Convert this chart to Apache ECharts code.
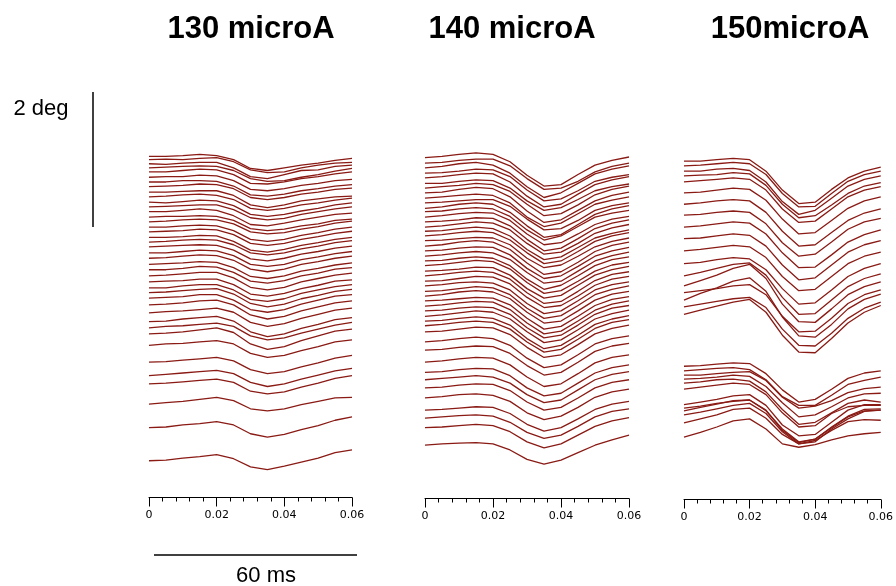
<!DOCTYPE html>
<html>
<head>
<meta charset="utf-8">
<script src="https://cdn.jsdelivr.net/npm/echarts@6/dist/echarts.min.js"></script>
<style>html,body{margin:0;padding:0;background:#fff;}#c{width:896px;height:586px;}</style>
</head>
<body>
<div id="c"></div>
<script>
// time samples (s)
const times = [0, 0.005, 0.01, 0.015, 0.02, 0.025, 0.03, 0.035, 0.04, 0.045, 0.05, 0.055, 0.06];
const panelTitles = ['130 microA', '140 microA', '150microA'];
const tickValues = [0, 0.02, 0.04, 0.06];
const scaleBarMs = 60;
const scaleBarDeg = 2;

// Panel 1 (130 microA): trace baselines (deg) and deviations (deg) at each time
const p1Offsets = [4.61, 4.56, 4.50, 4.44, 4.38, 4.30, 4.23, 4.16, 4.08, 4.01, 3.93, 3.86, 3.79, 3.71, 3.64, 3.56, 3.49, 3.41, 3.34, 3.27, 3.18, 3.10, 3.01, 2.93, 2.84, 2.75, 2.66, 2.59, 2.51, 2.41, 2.29, 2.16, 2.07, 1.98, 1.81, 1.56, 1.36, 1.24, 0.94, 0.59, 0.10];
const p1Dev = [
[0, 0.00, 0.01, 0.03, 0.01, -0.05, -0.18, -0.21, -0.17, -0.13, -0.10, -0.06, -0.03],
[0, 0.01, 0.00, 0.02, 0.03, -0.03, -0.15, -0.19, -0.18, -0.12, -0.08, -0.05, -0.04],
[0, -0.01, 0.01, 0.02, 0.02, -0.06, -0.19, -0.22, -0.16, -0.10, -0.09, -0.04, -0.02],
[0, 0.01, 0.02, 0.03, 0.02, -0.04, -0.16, -0.20, -0.19, -0.14, -0.10, -0.05, -0.01],
[0, 0.00, 0.02, 0.04, 0.03, -0.04, -0.17, -0.18, -0.15, -0.10, -0.07, -0.03, 0.00],
[0, 0.01, 0.01, 0.03, 0.02, -0.05, -0.18, -0.20, -0.17, -0.12, -0.09, -0.05, -0.03],
[0, 0.00, 0.02, 0.02, 0.01, -0.06, -0.19, -0.21, -0.18, -0.13, -0.10, -0.06, -0.04],
[0, 0.01, 0.02, 0.04, 0.03, -0.03, -0.16, -0.19, -0.16, -0.11, -0.08, -0.04, -0.02],
[0, 0.00, 0.01, 0.02, 0.02, -0.05, -0.19, -0.23, -0.19, -0.13, -0.10, -0.07, -0.06],
[0, 0.01, 0.03, 0.04, 0.02, -0.04, -0.17, -0.20, -0.17, -0.12, -0.09, -0.05, -0.02],
[0, -0.01, 0.01, 0.03, 0.02, -0.05, -0.18, -0.21, -0.18, -0.13, -0.09, -0.04, -0.01],
[0, 0.01, 0.02, 0.03, 0.03, -0.04, -0.16, -0.19, -0.17, -0.11, -0.07, -0.03, 0.00],
[0, 0.00, 0.02, 0.04, 0.02, -0.06, -0.19, -0.21, -0.17, -0.12, -0.08, -0.04, -0.02],
[0, 0.01, 0.01, 0.02, 0.01, -0.05, -0.17, -0.20, -0.18, -0.13, -0.10, -0.05, -0.03],
[0, 0.01, 0.03, 0.04, 0.03, -0.03, -0.15, -0.18, -0.16, -0.11, -0.07, -0.02, 0.01],
[0, 0.00, 0.02, 0.03, 0.02, -0.05, -0.18, -0.21, -0.18, -0.12, -0.08, -0.03, 0.00],
[0, 0.01, 0.02, 0.04, 0.03, -0.04, -0.17, -0.20, -0.17, -0.11, -0.07, -0.02, 0.01],
[0, 0.00, 0.01, 0.03, 0.02, -0.06, -0.19, -0.22, -0.18, -0.12, -0.08, -0.03, 0.00],
[0, 0.01, 0.03, 0.04, 0.03, -0.04, -0.16, -0.19, -0.16, -0.10, -0.06, -0.01, 0.02],
[0, 0.01, 0.02, 0.03, 0.02, -0.05, -0.18, -0.21, -0.17, -0.11, -0.07, -0.02, 0.01],
[0, 0.00, 0.02, 0.04, 0.03, -0.04, -0.17, -0.20, -0.17, -0.10, -0.06, -0.01, 0.02],
[0, 0.01, 0.03, 0.05, 0.04, -0.03, -0.16, -0.20, -0.16, -0.09, -0.05, 0.00, 0.03],
[0, 0.01, 0.02, 0.04, 0.03, -0.05, -0.18, -0.21, -0.17, -0.10, -0.06, -0.01, 0.02],
[0, 0.00, 0.02, 0.05, 0.04, -0.04, -0.17, -0.20, -0.16, -0.09, -0.05, 0.01, 0.03],
[0, 0.01, 0.03, 0.05, 0.05, -0.03, -0.17, -0.21, -0.17, -0.09, -0.04, 0.01, 0.04],
[0, 0.01, 0.02, 0.04, 0.04, -0.04, -0.18, -0.21, -0.17, -0.10, -0.05, 0.01, 0.03],
[0, 0.00, 0.03, 0.05, 0.05, -0.03, -0.17, -0.20, -0.16, -0.08, -0.03, 0.02, 0.05],
[0, 0.01, 0.03, 0.05, 0.06, -0.02, -0.16, -0.21, -0.17, -0.09, -0.04, 0.02, 0.05],
[0, 0.01, 0.02, 0.05, 0.05, -0.03, -0.17, -0.21, -0.17, -0.09, -0.03, 0.03, 0.05],
[0, 0.01, 0.03, 0.06, 0.07, 0.00, -0.15, -0.21, -0.17, -0.09, -0.03, 0.03, 0.06],
[0, 0.02, 0.03, 0.05, 0.07, 0.01, -0.14, -0.20, -0.16, -0.08, -0.02, 0.04, 0.07],
[0, 0.01, 0.04, 0.06, 0.08, 0.01, -0.15, -0.22, -0.18, -0.10, -0.04, 0.03, 0.06],
[0, 0.02, 0.03, 0.05, 0.07, 0.02, -0.12, -0.18, -0.15, -0.08, -0.02, 0.04, 0.08],
[0, 0.01, 0.03, 0.06, 0.09, 0.02, -0.15, -0.23, -0.19, -0.10, -0.03, 0.04, 0.07],
[0, 0.02, 0.03, 0.05, 0.07, 0.02, -0.12, -0.18, -0.15, -0.08, -0.02, 0.05, 0.08],
[0, 0.01, 0.03, 0.05, 0.07, 0.02, -0.11, -0.17, -0.14, -0.07, -0.01, 0.06, 0.10],
[0, 0.02, 0.04, 0.06, 0.08, 0.03, -0.10, -0.16, -0.12, -0.05, 0.01, 0.07, 0.11],
[0, 0.01, 0.03, 0.05, 0.07, 0.02, -0.11, -0.15, -0.12, -0.05, 0.01, 0.08, 0.12],
[0, 0.02, 0.04, 0.07, 0.10, 0.05, -0.07, -0.10, -0.07, -0.01, 0.04, 0.09, 0.10],
[0, 0.01, 0.04, 0.06, 0.09, 0.04, -0.09, -0.14, -0.10, -0.03, 0.03, 0.11, 0.16],
[0, 0.01, 0.04, 0.06, 0.09, 0.03, -0.09, -0.13, -0.08, -0.02, 0.04, 0.12, 0.16]
];

// Panel 2 (140 microA)
const p2Offsets = [4.59, 4.51, 4.44, 4.36, 4.29, 4.21, 4.14, 4.07, 3.99, 3.92, 3.84, 3.79, 3.71, 3.64, 3.56, 3.50, 3.43, 3.36, 3.28, 3.21, 3.13, 3.06, 2.99, 2.91, 2.84, 2.76, 2.69, 2.61, 2.54, 2.47, 2.39, 2.32, 2.24, 2.17, 2.10, 2.01, 1.86, 1.74, 1.56, 1.41, 1.30, 1.18, 1.03, 0.85, 0.73, 0.59, 0.33];
const p2Dev = [
[0, 0.02, 0.05, 0.07, 0.05, -0.06, -0.26, -0.42, -0.40, -0.25, -0.11, -0.04, 0.01],
[0, 0.01, 0.04, 0.06, 0.06, -0.04, -0.23, -0.39, -0.37, -0.27, -0.13, -0.05, 0.00],
[0, 0.02, 0.06, 0.08, 0.04, -0.08, -0.28, -0.44, -0.37, -0.23, -0.09, -0.02, 0.03],
[0, 0.01, 0.03, 0.06, 0.05, -0.05, -0.25, -0.41, -0.38, -0.26, -0.12, -0.06, -0.02],
[0, 0.02, 0.05, 0.07, 0.06, -0.06, -0.27, -0.43, -0.39, -0.24, -0.10, -0.03, 0.02],
[0, 0.00, 0.03, 0.05, 0.04, -0.07, -0.26, -0.40, -0.36, -0.24, -0.11, -0.05, -0.01],
[0, 0.02, 0.04, 0.07, 0.05, -0.05, -0.24, -0.41, -0.38, -0.25, -0.10, -0.02, 0.03],
[0, 0.01, 0.05, 0.08, 0.06, -0.06, -0.27, -0.44, -0.40, -0.26, -0.12, -0.04, 0.01],
[0, 0.02, 0.04, 0.06, 0.04, -0.07, -0.28, -0.42, -0.37, -0.23, -0.09, -0.03, 0.02],
[0, 0.01, 0.03, 0.05, 0.05, -0.05, -0.24, -0.40, -0.38, -0.26, -0.11, -0.04, 0.00],
[0, 0.02, 0.06, 0.08, 0.06, -0.06, -0.26, -0.43, -0.39, -0.24, -0.09, -0.01, 0.04],
[0, 0.01, 0.04, 0.06, 0.04, -0.07, -0.27, -0.42, -0.36, -0.22, -0.08, -0.02, 0.02],
[0, 0.02, 0.05, 0.07, 0.06, -0.05, -0.25, -0.41, -0.38, -0.25, -0.11, -0.03, 0.01],
[0, 0.01, 0.03, 0.06, 0.05, -0.06, -0.26, -0.43, -0.39, -0.25, -0.10, -0.02, 0.03],
[0, 0.02, 0.05, 0.08, 0.06, -0.04, -0.24, -0.40, -0.37, -0.24, -0.09, -0.01, 0.04],
[0, 0.01, 0.04, 0.06, 0.04, -0.07, -0.27, -0.42, -0.38, -0.24, -0.10, -0.03, 0.02],
[0, 0.02, 0.05, 0.07, 0.05, -0.06, -0.25, -0.41, -0.37, -0.23, -0.08, 0.00, 0.05],
[0, 0.01, 0.03, 0.05, 0.04, -0.06, -0.26, -0.40, -0.36, -0.23, -0.09, -0.01, 0.04],
[0, 0.02, 0.06, 0.08, 0.06, -0.05, -0.25, -0.42, -0.38, -0.24, -0.08, 0.01, 0.06],
[0, 0.01, 0.04, 0.06, 0.05, -0.06, -0.26, -0.41, -0.37, -0.23, -0.08, 0.00, 0.05],
[0, 0.02, 0.05, 0.07, 0.05, -0.05, -0.24, -0.40, -0.37, -0.22, -0.07, 0.01, 0.06],
[0, 0.01, 0.04, 0.06, 0.04, -0.07, -0.27, -0.42, -0.36, -0.22, -0.07, 0.02, 0.06],
[0, 0.02, 0.05, 0.08, 0.06, -0.05, -0.25, -0.41, -0.37, -0.23, -0.08, 0.01, 0.05],
[0, 0.01, 0.03, 0.06, 0.05, -0.06, -0.26, -0.40, -0.36, -0.21, -0.06, 0.02, 0.07],
[0, 0.02, 0.05, 0.07, 0.05, -0.05, -0.25, -0.41, -0.38, -0.23, -0.07, 0.02, 0.06],
[0, 0.01, 0.04, 0.07, 0.06, -0.04, -0.24, -0.39, -0.36, -0.22, -0.06, 0.03, 0.07],
[0, 0.02, 0.05, 0.06, 0.04, -0.06, -0.26, -0.41, -0.37, -0.22, -0.06, 0.02, 0.06],
[0, 0.01, 0.04, 0.07, 0.05, -0.05, -0.25, -0.40, -0.36, -0.21, -0.05, 0.03, 0.08],
[0, 0.02, 0.06, 0.08, 0.06, -0.04, -0.24, -0.40, -0.37, -0.22, -0.06, 0.03, 0.07],
[0, 0.01, 0.03, 0.05, 0.04, -0.06, -0.26, -0.42, -0.38, -0.23, -0.07, 0.02, 0.06],
[0, 0.02, 0.05, 0.07, 0.06, -0.05, -0.25, -0.41, -0.37, -0.22, -0.06, 0.03, 0.08],
[0, 0.01, 0.04, 0.06, 0.05, -0.05, -0.25, -0.40, -0.36, -0.21, -0.05, 0.04, 0.08],
[0, 0.02, 0.05, 0.08, 0.06, -0.04, -0.23, -0.39, -0.35, -0.20, -0.04, 0.04, 0.09],
[0, 0.01, 0.04, 0.06, 0.04, -0.06, -0.26, -0.41, -0.36, -0.21, -0.05, 0.03, 0.08],
[0, 0.02, 0.05, 0.07, 0.05, -0.05, -0.24, -0.39, -0.35, -0.20, -0.04, 0.05, 0.09],
[0, 0.01, 0.04, 0.07, 0.06, -0.04, -0.23, -0.38, -0.34, -0.19, -0.03, 0.05, 0.10],
[0, 0.02, 0.05, 0.07, 0.05, -0.05, -0.24, -0.38, -0.34, -0.19, -0.03, 0.05, 0.09],
[0, 0.01, 0.04, 0.06, 0.05, -0.05, -0.23, -0.37, -0.33, -0.18, -0.02, 0.06, 0.10],
[0, 0.02, 0.05, 0.07, 0.06, -0.04, -0.22, -0.36, -0.32, -0.17, -0.01, 0.07, 0.11],
[0, 0.01, 0.04, 0.06, 0.05, -0.05, -0.23, -0.35, -0.31, -0.16, -0.01, 0.07, 0.11],
[0, 0.02, 0.04, 0.06, 0.04, -0.05, -0.22, -0.34, -0.30, -0.15, 0.00, 0.08, 0.12],
[0, 0.01, 0.04, 0.06, 0.05, -0.04, -0.21, -0.33, -0.29, -0.15, 0.00, 0.08, 0.12],
[0, 0.02, 0.05, 0.06, 0.04, -0.05, -0.22, -0.32, -0.27, -0.14, 0.01, 0.09, 0.13],
[0, 0.01, 0.03, 0.05, 0.04, -0.05, -0.21, -0.31, -0.26, -0.13, 0.01, 0.09, 0.13],
[0, 0.02, 0.04, 0.05, 0.03, -0.06, -0.21, -0.30, -0.25, -0.12, 0.02, 0.10, 0.14],
[0, 0.01, 0.03, 0.05, 0.03, -0.06, -0.21, -0.30, -0.24, -0.11, 0.02, 0.10, 0.15],
[0, 0.02, 0.03, 0.04, 0.02, -0.07, -0.21, -0.28, -0.22, -0.11, 0.00, 0.08, 0.15]
];

// Panel 3 (150microA): upper group then lower group
const p3Offsets = [4.54, 4.47, 4.39, 4.32, 4.23, 4.07, 3.90, 3.74, 3.56, 3.39, 3.21, 3.02, 2.84, 2.69, 2.59, 2.48, 2.38, 2.27,
                   1.50, 1.43, 1.37, 1.31, 1.25, 1.16, 0.93, 0.88, 0.84, 0.78, 0.66, 0.45];
const p3Dev = [
[0, 0.00, 0.02, 0.04, 0.02, -0.15, -0.43, -0.63, -0.61, -0.42, -0.25, -0.15, -0.09],
[0, 0.01, 0.03, 0.05, 0.03, -0.13, -0.41, -0.61, -0.60, -0.41, -0.23, -0.13, -0.08],
[0, 0.00, 0.03, 0.04, 0.01, -0.16, -0.45, -0.64, -0.58, -0.40, -0.22, -0.12, -0.07],
[0, 0.01, 0.02, 0.05, 0.03, -0.14, -0.42, -0.62, -0.59, -0.43, -0.26, -0.15, -0.10],
[0, 0.02, 0.04, 0.06, 0.04, -0.12, -0.40, -0.60, -0.58, -0.40, -0.22, -0.12, -0.07],
[0, 0.01, 0.04, 0.07, 0.05, -0.11, -0.39, -0.61, -0.59, -0.41, -0.23, -0.12, -0.06],
[0, 0.02, 0.05, 0.07, 0.05, -0.12, -0.40, -0.62, -0.60, -0.42, -0.24, -0.13, -0.07],
[0, 0.01, 0.04, 0.06, 0.04, -0.13, -0.41, -0.61, -0.58, -0.40, -0.21, -0.10, -0.05],
[0, 0.02, 0.05, 0.08, 0.06, -0.10, -0.38, -0.60, -0.59, -0.41, -0.22, -0.11, -0.04],
[0, 0.01, 0.04, 0.07, 0.05, -0.11, -0.39, -0.61, -0.58, -0.39, -0.20, -0.09, -0.03],
[0, 0.02, 0.05, 0.08, 0.06, -0.10, -0.38, -0.59, -0.57, -0.38, -0.19, -0.08, -0.02],
[0, 0.02, 0.06, 0.09, 0.07, -0.09, -0.37, -0.60, -0.58, -0.39, -0.19, -0.07, 0.00],
[0, 0.05, 0.11, 0.17, 0.19, 0.01, -0.32, -0.57, -0.56, -0.36, -0.16, -0.04, 0.03],
[0, 0.08, 0.16, 0.26, 0.32, 0.11, -0.27, -0.53, -0.54, -0.34, -0.13, -0.01, 0.06],
[0, 0.03, 0.06, 0.10, 0.12, -0.03, -0.35, -0.58, -0.57, -0.38, -0.16, -0.03, 0.04],
[0, 0.10, 0.18, 0.28, 0.33, 0.13, -0.25, -0.53, -0.55, -0.36, -0.13, 0.01, 0.09],
[0, 0.04, 0.08, 0.12, 0.14, -0.01, -0.33, -0.57, -0.58, -0.39, -0.17, -0.02, 0.07],
[0, 0.06, 0.12, 0.18, 0.22, 0.03, -0.31, -0.56, -0.57, -0.36, -0.13, 0.03, 0.13],
[0, 0.01, 0.03, 0.05, 0.04, -0.11, -0.35, -0.53, -0.49, -0.34, -0.18, -0.10, -0.07],
[0, 0.02, 0.04, 0.05, 0.02, -0.13, -0.38, -0.51, -0.51, -0.36, -0.20, -0.14, -0.09],
[0, 0.00, 0.02, 0.04, 0.05, -0.08, -0.33, -0.49, -0.46, -0.38, -0.26, -0.20, -0.18],
[0, 0.01, 0.03, 0.06, 0.04, -0.11, -0.35, -0.56, -0.53, -0.41, -0.28, -0.22, -0.21],
[0, 0.02, 0.05, 0.06, 0.03, -0.13, -0.39, -0.61, -0.58, -0.44, -0.30, -0.25, -0.28],
[0, 0.03, 0.06, 0.09, 0.07, -0.08, -0.35, -0.56, -0.54, -0.36, -0.26, -0.24, -0.24],
[0, 0.04, 0.08, 0.13, 0.15, -0.01, -0.30, -0.46, -0.44, -0.26, -0.08, 0.00, 0.00],
[0, 0.03, 0.07, 0.10, 0.12, -0.03, -0.33, -0.51, -0.46, -0.29, -0.13, -0.04, -0.03],
[0, 0.05, 0.10, 0.15, 0.16, 0.00, -0.27, -0.46, -0.42, -0.24, -0.08, 0.02, 0.03],
[0, 0.04, 0.09, 0.14, 0.17, 0.02, -0.25, -0.43, -0.40, -0.21, -0.06, 0.05, 0.07],
[0, 0.06, 0.12, 0.20, 0.22, 0.07, -0.17, -0.31, -0.26, -0.11, 0.02, 0.05, 0.04],
[0, 0.07, 0.15, 0.24, 0.27, 0.12, -0.10, -0.15, -0.11, -0.04, 0.02, 0.05, 0.07]
];

const traceColor = '#8a1a14';
const panels = [
  {offsets: p1Offsets, dev: p1Dev, left: 149, width: 203, axisOffset: 30, cx: 251},
  {offsets: p2Offsets, dev: p2Dev, left: 425, width: 204, axisOffset: 31, cx: 512},
  {offsets: p3Offsets, dev: p3Dev, left: 684, width: 204, axisOffset: 32, cx: 790}
];

const grids = [], xAxes = [], yAxes = [], series = [];
const font = '"Liberation Sans", Arial, sans-serif';

panels.forEach((p, i) => {
  grids.push({left: p.left, width: p.width, top: 130, height: 337.5});
  xAxes.push({
    gridIndex: i, type: 'value', min: tickValues[0], max: tickValues[tickValues.length - 1],
    interval: tickValues[1] - tickValues[0], position: 'bottom', offset: p.axisOffset,
    axisLine: {show: true, onZero: false, lineStyle: {color: '#000', width: 1}},
    axisTick: {show: true, length: 9, lineStyle: {color: '#000', width: 1}},
    minorTick: {show: true, splitNumber: 5, length: 4, lineStyle: {color: '#000', width: 1}},
    splitLine: {show: false},
    axisLabel: {fontSize: 11, color: '#000', margin: 12, fontFamily: '"DejaVu Sans", sans-serif',
      formatter: v => (Math.abs(v) < 1e-9 ? '0' : (+v.toFixed(2)).toString())}
  });
  yAxes.push({gridIndex: i, type: 'value', min: 0, max: 5, show: false});
  p.offsets.forEach((off, k) => {
    series.push({
      type: 'line', xAxisIndex: i, yAxisIndex: i, showSymbol: false, symbol: 'none',
      silent: true, animation: false, clip: false,
      lineStyle: {color: traceColor, width: 1.3},
      data: times.map((t, j) => [t, off + p.dev[k][j]])
    });
  });
});

// time scale bar grid (60 ms)
grids.push({left: 154, width: 203, top: 550, height: 10});
xAxes.push({gridIndex: 3, type: 'value', min: 0, max: 0.06, show: false});
yAxes.push({gridIndex: 3, type: 'value', min: -1, max: 1, show: false});
series.push({type: 'line', xAxisIndex: 3, yAxisIndex: 3, showSymbol: false, silent: true, animation: false,
  lineStyle: {color: '#000', width: 1.5}, data: [[0, 0], [scaleBarMs / 1000, 0]]});

// angle scale bar grid (2 deg)
grids.push({left: 88, width: 10, top: 92, height: 135});
xAxes.push({gridIndex: 4, type: 'value', min: -1, max: 1, show: false});
yAxes.push({gridIndex: 4, type: 'value', min: 0, max: scaleBarDeg, show: false});
series.push({type: 'line', xAxisIndex: 4, yAxisIndex: 4, showSymbol: false, silent: true, animation: false,
  lineStyle: {color: '#000', width: 1.5}, data: [[0, 0], [0, scaleBarDeg]]});

const graphics = panels.map((p, i) => ({
  type: 'text', x: p.cx, y: 29,
  style: {text: panelTitles[i], font: 'bold 31px ' + font, fill: '#000', textAlign: 'center', textVerticalAlign: 'middle'}
}));
graphics.push({type: 'text', x: 41, y: 109,
  style: {text: scaleBarDeg + ' deg', font: '22px ' + font, fill: '#000', textAlign: 'center', textVerticalAlign: 'middle'}});
graphics.push({type: 'text', x: 266, y: 576,
  style: {text: scaleBarMs + ' ms', font: '22px ' + font, fill: '#000', textAlign: 'center', textVerticalAlign: 'middle'}});

const chart = echarts.init(document.getElementById('c'), null, {renderer: 'canvas'});
chart.setOption({
  animation: false,
  backgroundColor: '#fff',
  grid: grids, xAxis: xAxes, yAxis: yAxes, series: series,
  graphic: graphics
});
</script>
</body>
</html>
